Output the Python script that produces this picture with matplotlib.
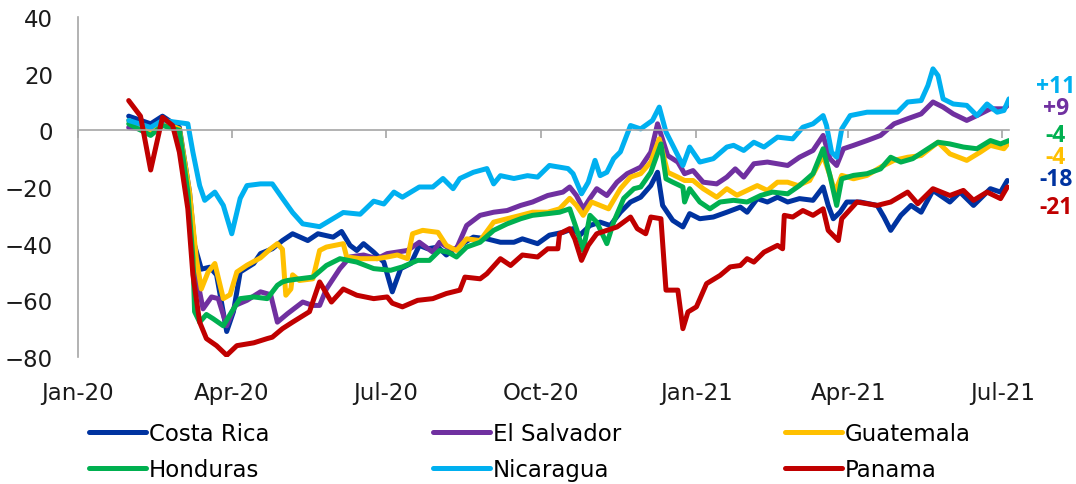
import numpy as np
import pandas as pd
import matplotlib
matplotlib.use("Agg")
import matplotlib.pyplot as plt
import matplotlib.dates as mdates

plt.rcParams['font.family'] = ['DejaVu Sans']

# días desde el 1 de enero de 2020 y valores
base = pd.Timestamp('2020-01-01')

cr_days = [30, 43, 50, 60, 66, 69, 73, 78, 82, 88, 92, 96, 104, 108, 115, 121, 127, 136, 142, 151, 156,
           161, 165, 169, 175, 181, 186, 191, 197, 202, 207, 213, 218, 226, 234, 242, 250, 258, 263, 272,
           279, 287, 293, 297, 303, 309, 315, 321, 327, 333, 339, 343, 346, 352, 358, 362, 368, 376, 384,
           392, 396, 402, 408, 414, 420, 427, 435, 441, 444, 447, 451, 455, 463, 473, 477, 481, 487, 493,
           499, 506, 516, 522, 530, 540, 546, 550]
cr_vals = [5, 2.3, 5, 1, -21.8, -40.6, -49, -48.3, -51, -71, -64, -50, -47, -43.5, -41.8, -38.9, -36.5,
           -38.9, -36.5, -37.7, -35.7, -40.6, -42.4, -40, -43, -46.5, -57, -48.8, -47, -40.6, -41.8, -41.2,
           -44, -40.6, -37.7, -38.3, -39.5, -39.5, -38.3, -40, -37, -36, -34.7, -37, -33.6, -32.4, -33.6,
           -28.9, -25.3, -23.6, -19.5, -14.8, -26.5, -31.8, -34.1, -29.4, -31.2, -30.6, -28.9, -27.1,
           -28.9, -24.1, -25.3, -23.6, -25.3, -24.1, -24.7, -20, -26.5, -31.2, -28.9, -25.3, -25.3, -26.5,
           -30.6, -35.3, -30, -26.5, -28.9, -21.2, -25.3, -21.8, -26.5, -20.6, -21.8, -17.7]

sv_days = [30, 43, 50, 60, 66, 70, 74, 79, 83, 88, 93, 100, 108, 114, 118, 124, 133, 139, 143, 147, 155,
           161, 169, 177, 183, 195, 202, 210, 214, 220, 224, 230, 238, 246, 254, 262, 269, 278, 287, 291,
           295, 299, 303, 307, 313, 319, 325, 333, 339, 343, 349, 355, 359, 364, 370, 378, 384, 389, 394,
           400, 408, 414, 420, 427, 435, 441, 445, 449, 453, 459, 467, 475, 483, 491, 499, 506, 512, 518,
           526, 532, 540, 548, 551]
sv_vals = [1, 0, 3, 0, -24, -51, -63, -58.8, -59.4, -69, -61.8, -60, -57, -58, -67.7, -64.7, -60.6, -61.8,
           -61.8, -56, -48.8, -44.7, -44, -45.3, -43.5, -42.4, -39.5, -43, -39.5, -41.8, -41.8, -33.6, -30,
           -28.9, -28.3, -26.5, -25.3, -23, -21.8, -20, -23, -27.7, -24, -20.6, -23, -18.3, -15.3, -13,
           -7.7, 2.3, -8.9, -11.2, -15.3, -14.2, -18.3, -18.9, -16.5, -13.6, -16.5, -11.8, -11.2, -11.8,
           -12.4, -9.5, -7.1, -1.8, -10, -12.4, -6.5, -5.3, -3.6, -1.8, 2.3, 4.1, 5.8, 10, 8.2, 5.8, 3.5,
           5.2, 7.6, 7.6, 9.3]

gt_days = [30, 43, 50, 60, 66, 70, 73, 77, 81, 86, 90, 94, 100, 108, 114, 118, 121, 123, 126, 127, 131,
           139, 143, 147, 157, 159, 167, 177, 183, 189, 195, 198, 204, 213, 218, 224, 230, 238, 246, 254,
           262, 269, 278, 285, 291, 295, 299, 304, 309, 314, 321, 327, 333, 339, 344, 349, 355, 359, 364,
           370, 378, 384, 390, 396, 402, 408, 414, 420, 426, 433, 441, 445, 448, 452, 459, 467, 475, 483,
           491, 499, 509, 516, 526, 534, 540, 548, 551]
gt_vals = [3.5, -0.6, 2.9, 0.5, -21.8, -45, -56, -50, -47, -59.4, -58, -50, -47.6, -45, -41.8, -40, -42,
           -58.2, -56, -51, -53, -52.4, -42.4, -41.2, -40, -44.7, -45.3, -45.3, -44.7, -44, -45.3, -36.5,
           -35.3, -36, -40.6, -42.4, -38.3, -38.9, -32.4, -31.2, -30, -28.9, -28.9, -27.7, -24, -26.5, -30,
           -25.3, -26.5, -27.7, -20.6, -16.5, -15.3, -11.2, -3, -14.8, -16.5, -17.7, -17.7, -20.6, -23.6,
           -20.6, -22.9, -21.2, -19.5, -21.2, -18.3, -18.3, -19.5, -17.7, -8.9, -15.9, -21.8, -15.9, -17.1,
           -15.9, -13, -10.6, -9.5, -8.9, -4.2, -8.3, -10.6, -7.7, -5.3, -6.5, -4.2]

hn_days = [30, 43, 50, 60, 65, 68, 69, 72, 76, 80, 86, 91, 96, 104, 112, 118, 121, 124, 131, 139, 147,
           155, 165, 175, 185, 192, 201, 208, 214, 219, 224, 230, 238, 246, 254, 262, 269, 278, 285, 291,
           295, 299, 303, 307, 313, 317, 323, 329, 333, 339, 345, 348, 352, 358, 359, 362, 368, 374, 380,
           388, 396, 404, 411, 420, 427, 435, 441, 445, 449, 452, 459, 467, 475, 481, 487, 494, 503, 509,
           516, 524, 532, 540, 546, 551]
hn_vals = [2.3, -1.8, 1.7, 0, -21.8, -45, -64, -67.7, -65, -66.5, -69, -64, -59.4, -58.8, -59.4, -54.7,
           -53.5, -53, -52.4, -51.8, -47.7, -45.3, -46.5, -48.8, -49.4, -48.2, -45.9, -45.9, -42.4, -43,
           -44.7, -41.2, -39.5, -35.3, -33, -31.2, -30, -29.4, -28.9, -27.7, -34.7, -42.4, -30, -32.4, -40,
           -32.4, -24, -20.6, -20, -14.8, -4.8, -17.1, -18.3, -20, -25.3, -20.6, -25.3, -27.7, -25.3,
           -24.7, -25.3, -23, -21.8, -22.4, -19.5, -15.3, -6.5, -15.9, -26.5, -17.1, -15.9, -15.3, -13.6,
           -9.5, -11.2, -10, -6.5, -4.2, -4.8, -5.9, -6.5, -3.6, -4.8, -3.6]

ni_days = [30, 43, 50, 65, 68, 72, 75, 81, 86, 91, 96, 100, 108, 115, 121, 127, 133, 143, 157, 167, 175,
           181, 187, 192, 202, 210, 216, 222, 226, 234, 242, 246, 250, 258, 266, 272, 279, 290, 293, 298,
           302, 306, 309, 313, 317, 321, 327, 333, 340, 344, 348, 352, 358, 362, 368, 376, 384, 388, 394,
           400, 406, 414, 423, 429, 435, 441, 443, 446, 449, 452, 457, 467, 475, 485, 491, 499, 503, 506,
           509, 512, 518, 526, 532, 538, 544, 548, 551]
ni_vals = [3.5, 1, 3.5, 2.3, -7.7, -19.5, -24.7, -21.8, -26.5, -36.5, -24, -19.5, -18.9, -18.9, -24, -29,
           -33, -34, -29, -29.6, -25, -26, -21.8, -23.6, -20, -20, -17, -20.6, -17, -14.8, -13.5, -18.9,
           -16, -17, -16, -16.5, -12.4, -13.5, -15.3, -22.4, -18.3, -10.6, -16, -14.8, -10, -7.6, 1.7, 0.5,
           3.5, 8.2, -0.6, -5.3, -12.4, -5.9, -11.2, -10, -5.9, -5.3, -7.1, -4.2, -5.9, -2.4, -3, 1.1, 2.3,
           5.2, 1.7, -7.7, -9.5, 0.5, 5.2, 6.4, 6.4, 6.4, 10, 10.5, 15.8, 21.7, 19.3, 11.1, 9.3, 8.8, 5.2,
           9.3, 6.4, 7, 11.1]

pa_days = [30, 37, 43, 50, 56, 60, 65, 68, 72, 76, 82, 88, 94, 104, 112, 115, 121, 127, 137, 143, 150,
           157, 165, 175, 183, 186, 192, 201, 210, 218, 226, 229, 238, 242, 250, 256, 263, 272, 278, 284,
           285, 291, 294, 298, 302, 307, 313, 319, 327, 331, 336, 339, 345, 348, 355, 358, 361, 366, 372,
           380, 386, 392, 396, 400, 406, 414, 417, 418, 423, 429, 435, 441, 444, 450, 452, 461, 473, 481,
           491, 497, 506, 516, 524, 530, 538, 546, 550]
pa_vals = [10.5, 5, -14, 4.6, 1.7, -7.7, -27.7, -51, -67.7, -73.5, -76, -79.4, -76, -75, -73.5, -73, -70,
           -67.7, -64, -53.5, -60.6, -56, -58.2, -59.4, -58.8, -61, -62.3, -60, -59.4, -57.6, -56.4, -51.8,
           -52.4, -50.6, -45.3, -47.7, -44, -44.7, -41.8, -41.8, -36.5, -34.7, -38.3, -45.9, -40.6, -36.5,
           -35.3, -34.1, -30.6, -34.7, -36.5, -30.6, -31.2, -56.4, -56.4, -70, -64.1, -62.3, -54.1, -51.2,
           -48.2, -47.7, -45.3, -46.5, -43, -40.6, -41.8, -30, -30.6, -28.3, -30, -27.7, -35.3, -38.9,
           -31.2, -25.3, -26.5, -25.3, -21.8, -25.9, -20.6, -23, -21.2, -24.7, -21.8, -24.1, -20]

names = ['Costa Rica', 'El Salvador', 'Guatemala', 'Honduras', 'Nicaragua', 'Panama']
colors = ['#0033A0', '#7030A0', '#FFC000', '#00B050', '#00B0F0', '#C00000']
end_labels = ['-18', '+9', '-4', '-4', '+11', '-21']
end_label_y = [180, 109, 158, 136, 87, 208]  # pixel rows of the right-hand labels

series = [(cr_days, cr_vals), (sv_days, sv_vals), (gt_days, gt_vals),
          (hn_days, hn_vals), (ni_days, ni_vals), (pa_days, pa_vals)]

W, H = 1076, 485
fs = 16.5
fig = plt.figure(figsize=(W / 100, H / 100), dpi=100)
ax = fig.add_axes([78 / W, 127 / H, 931 / W, 340 / H])

lines = []
for (d, v), name, c in zip(series, names, colors):
    dates = base + pd.to_timedelta(d, unit='D')
    ln, = ax.plot(dates, v, color=c, lw=3.6, label=name, solid_capstyle='round', solid_joinstyle='round')
    lines.append(ln)

ax.set_ylim(-80, 40)
ax.set_yticks(np.arange(-80, 41, 20))
ax.set_xlim(base, base + pd.Timedelta(days=551))

grey = '#A6A6A6'
for s in ['top', 'right']:
    ax.spines[s].set_visible(False)
ax.spines['left'].set_color(grey)
ax.spines['left'].set_linewidth(1.2)
ax.spines['bottom'].set_position(('data', 0))
ax.spines['bottom'].set_color(grey)
ax.spines['bottom'].set_linewidth(1.2)

ax.xaxis.set_major_locator(mdates.MonthLocator(bymonth=[1, 4, 7, 10]))
ax.tick_params(axis='x', direction='out', length=6, width=1.2, color=grey, labelbottom=False)
ax.tick_params(axis='y', length=0, labelsize=fs, pad=18, labelcolor='#1a1a1a')

sec = ax.secondary_xaxis(0)
sec.xaxis.set_major_locator(mdates.MonthLocator(bymonth=[1, 4, 7, 10]))
sec.xaxis.set_major_formatter(mdates.DateFormatter('%b-%y'))
sec.tick_params(length=0, labelsize=fs, pad=17, labelcolor='#1a1a1a')
sec.spines['bottom'].set_visible(False)

for lab, c, yp in zip(end_labels, colors, end_label_y):
    fig.text(1056 / W, 1 - yp / H, lab, color=c, fontsize=16.5, fontweight='bold',
             family='Open Sans', ha='center', va='center')

# legend filled row by row: reorder for matplotlib's column-major fill
order = [0, 3, 1, 4, 2, 5]
fig.legend([lines[i] for i in order], [names[i] for i in order],
           loc='upper left', bbox_to_anchor=(80 / W, 1 - 414 / H), ncol=3, frameon=False,
           fontsize=fs, handlelength=2.5, handletextpad=0.1, columnspacing=7.15,
           labelspacing=0.55, borderaxespad=0)

fig.savefig('out.png', dpi=100)
